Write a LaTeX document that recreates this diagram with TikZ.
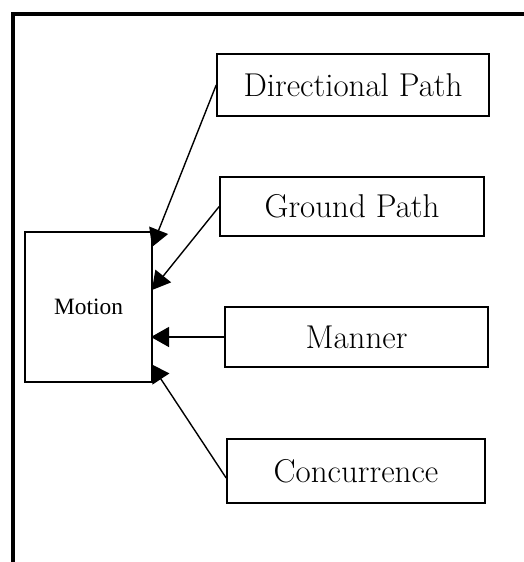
\documentclass[tikz,border=0pt]{standalone}
\usepackage{fontspec}
\newfontfamily\timesfont{Liberation Serif}
\usetikzlibrary{arrows.meta,positioning}

\begin{document}
\begin{tikzpicture}[
        x=0.5pt, y=-0.5pt,
        caja/.style={draw, line width=0.8pt, inner sep=0pt, align=center, font=\fontsize{16.5}{19}\selectfont},
        flecha/.style={-{Triangle[length=9pt, width=10pt]}, line width=0.7pt}
    ]
        \useasboundingbox (0,0) rectangle (524,562);
        \draw[line width=1.6pt] (13,600) -- (13,14) -- (560,14);

        \node[caja, minimum width=63.5pt, minimum height=75pt, font=\timesfont\fontsize{11.7}{14}\selectfont] (motion) at (88.5,307) {Motion};

        \node[caja, minimum width=136pt, minimum height=31pt] (dir) at (353,85) {Directional Path};
        \node[caja, minimum width=132pt, minimum height=29.5pt] (ground) at (352,206.5) {Ground Path};
        \node[caja, minimum width=131.5pt, minimum height=30pt] (manner) at (356.5,337) {Manner};
        \node[caja, minimum width=129pt, minimum height=32pt] (conc) at (356,471) {Concurrence};

        % puntos de llegada sobre el borde derecho de Motion
        \coordinate (in-dir) at (152,247);
        \coordinate (in-ground) at (152,290);
        \coordinate (in-manner) at (151,337);
        \coordinate (in-conc) at (151,364);

        \draw[flecha] (dir.west) -- (in-dir);
        \draw[flecha] (ground.west) -- (in-ground);
        \draw[flecha] (manner.west) -- (in-manner);
        \draw[flecha] ([yshift=-3.5pt]conc.west) -- (in-conc);
    \end{tikzpicture}
\end{document}
